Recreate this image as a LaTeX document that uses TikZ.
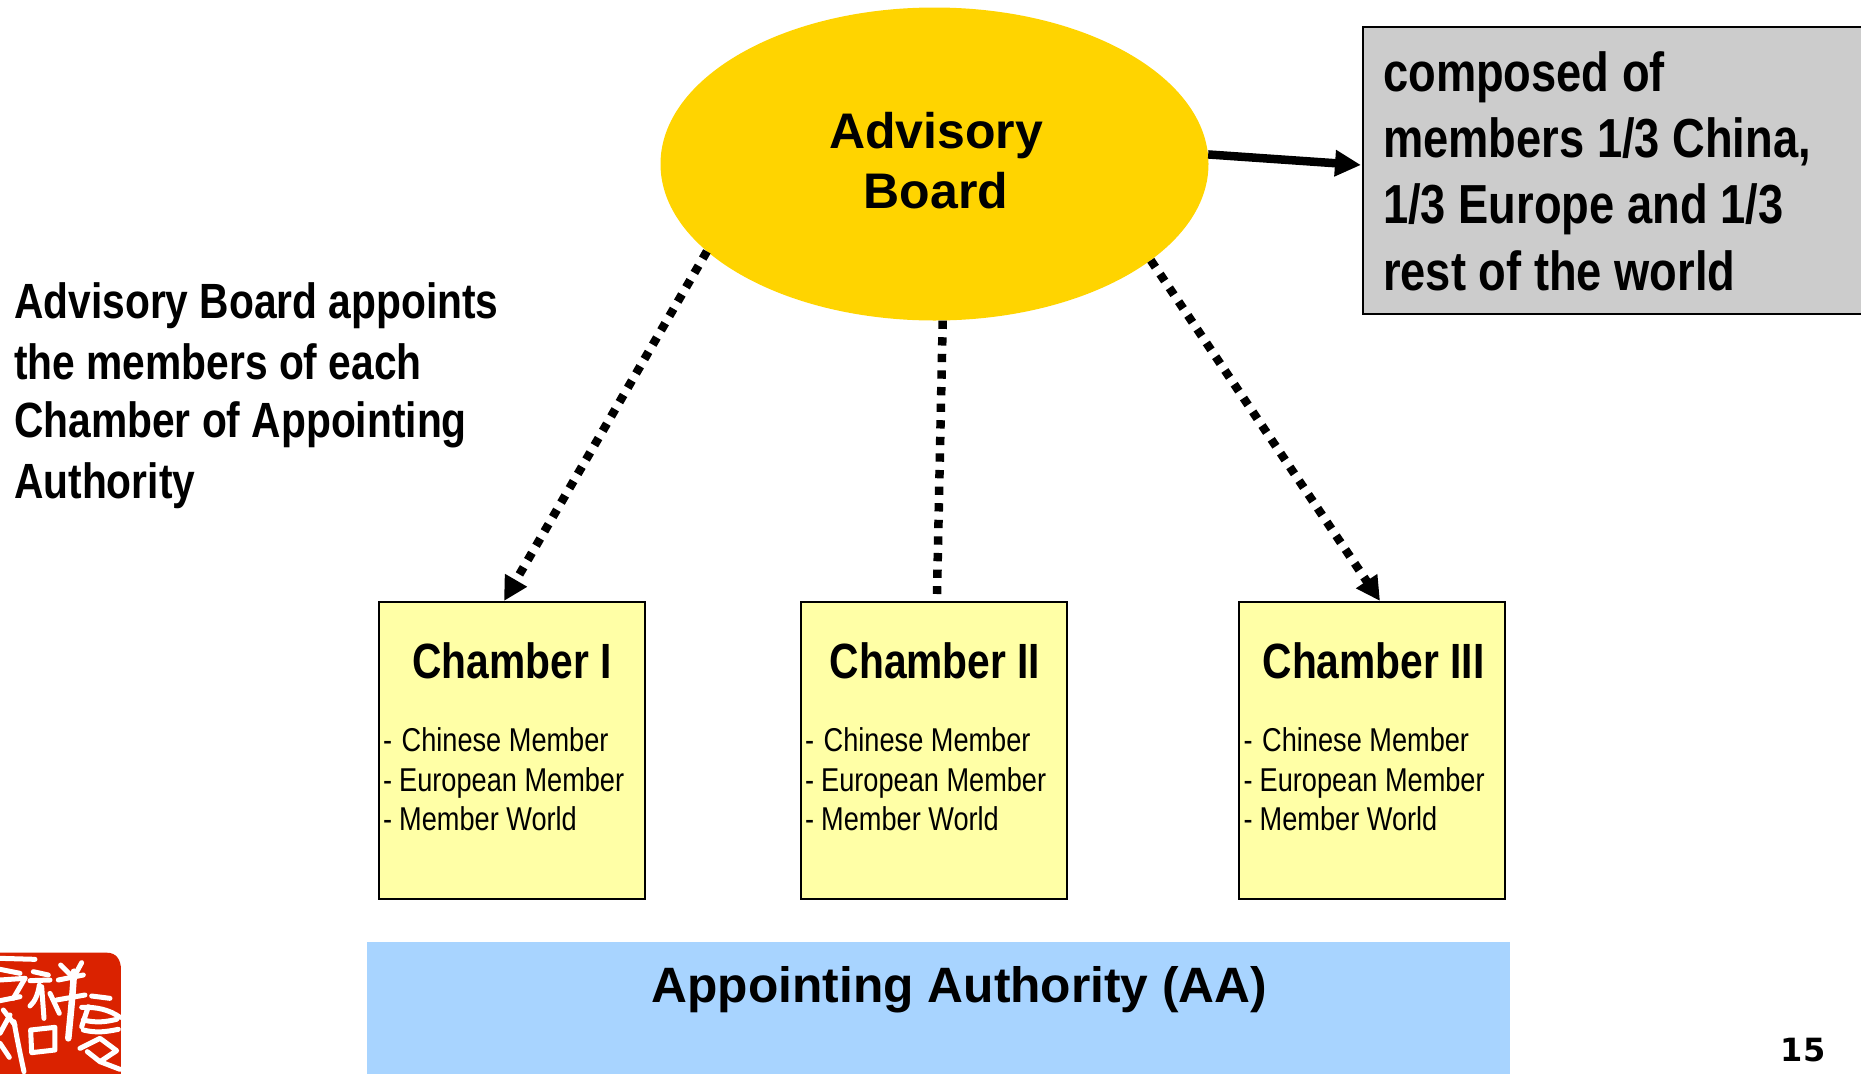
\documentclass[tikz,border=0pt]{standalone}
\usepackage{fontspec}
\setmainfont{Liberation Sans}
\newfontfamily\narrowf[FakeStretch=0.823]{Liberation Sans}
\newfontfamily\pagef{DejaVu Sans}
\usetikzlibrary{shapes.geometric,arrows.meta}
\definecolor{boardyellow}{HTML}{FFD400}
\definecolor{boxgrey}{HTML}{CCCCCC}
\definecolor{chamberyellow}{HTML}{FFFFA6}
\definecolor{aablue}{HTML}{A8D4FF}
\definecolor{sealred}{HTML}{DA2200}
\tikzset{
  chamberbox/.style={draw=black,line width=2pt,fill=chamberyellow,minimum width=266pt,minimum height=297pt,inner sep=0pt},
  chambertitle/.style={font=\narrowf\bfseries\fontsize{49.5}{58}\selectfont,inner sep=0pt,anchor=base},
  memberlist/.style={font=\narrowf\fontsize{33}{40}\selectfont,inner sep=0pt,anchor=base west},
  dotarrow/.style={line width=8.5pt,dash pattern=on 8.3pt off 8.3pt,-{Triangle[length=24pt,width=24pt,sep=0pt]}},
  dotline/.style={line width=8.5pt,dash pattern=on 8.3pt off 8.3pt},
  solidarrow/.style={line width=8.5pt,-{Triangle[length=26pt,width=25pt]}},
  sealstroke/.style={draw=white,line cap=round,line join=round,line width=5pt},
  boldtext/.style={font=\narrowf\bfseries\fontsize{49.5}{60}\selectfont,inner sep=0pt,anchor=base west},
  greytext/.style={font=\narrowf\bfseries\fontsize{55}{66}\selectfont,inner sep=0pt,anchor=base west},
}
\begin{document}
\begin{tikzpicture}[x=1pt,y=-1pt]
\useasboundingbox (0,0) rectangle (1861,1074);
\clip (0,0) rectangle (1861,1074);
\node[ellipse,fill=boardyellow,minimum width=548pt,minimum height=313pt,inner sep=0pt] (board) at (934.5,164) {};
\node[font=\bfseries\fontsize{50}{60}\selectfont,inner sep=0pt,anchor=base] (advisory) at (936,148) {Advisory};
\node[font=\bfseries\fontsize{50}{60}\selectfont,inner sep=0pt,anchor=base] (boardword) at (936,208) {Board};
\node[draw=black,line width=2pt,fill=boxgrey,anchor=north west,minimum width=520pt,minimum height=287pt,inner sep=0pt] (greybox) at (1361.5,25.5) {};
\node[greytext] (g1) at (1383,91) {composed of};
\node[greytext] (g2) at (1383,157) {members 1/3 China,};
\node[greytext] (g3) at (1383,223) {1/3 Europe and 1/3};
\node[greytext] (g4) at (1383,290) {rest of the world};
\node[boldtext] (l1) at (14,318) {Advisory Board appoints};
\node[boldtext] (l2) at (14,379) {the members of each};
\node[boldtext] (l3) at (14,437) {Chamber of Appointing};
\node[boldtext] (l4) at (14,498) {Authority};
\node[chamberbox] (c1) at (511.7,750.5) {};
\node[chamberbox] (c2) at (934,750.5) {};
\node[chamberbox] (c3) at (1372,750.5) {};
\node[chambertitle] (t1) at (512,678) {Chamber I};
\node[chambertitle] (t2) at (935,678) {Chamber II};
\node[chambertitle] (t3) at (1373.5,678) {Chamber III};
\node[memberlist] (m1a) at (383,751) {-\hspace{9.5pt}Chinese Member};
\node[memberlist] (m1b) at (383,791) {-\hspace{7pt}European Member};
\node[memberlist] (m1c) at (383,830) {-\hspace{7pt}Member World};
\node[memberlist] (m2a) at (805,751) {-\hspace{9.5pt}Chinese Member};
\node[memberlist] (m2b) at (805,791) {-\hspace{7pt}European Member};
\node[memberlist] (m2c) at (805,830) {-\hspace{7pt}Member World};
\node[memberlist] (m3a) at (1243.5,751) {-\hspace{9.5pt}Chinese Member};
\node[memberlist] (m3b) at (1243.5,791) {-\hspace{7pt}European Member};
\node[memberlist] (m3c) at (1243.5,830) {-\hspace{7pt}Member World};
\node[fill=aablue,anchor=north west,minimum width=1143pt,minimum height=132pt,inner sep=0pt] (aa) at (367,942) {};
\node[font=\bfseries\fontsize{49.7}{60}\selectfont,inner sep=0pt,anchor=base] (aatext) at (959.5,1002) {Appointing Authority (AA)};
\node[font=\pagef\bfseries\fontsize{32}{36}\selectfont,inner sep=0pt,anchor=base] (pagenum) at (1803,1061) {15};
\coordinate (c1top) at (504,601);
\coordinate (c2top) at (937,594);
\coordinate (c3top) at (1380,601);
\coordinate (greyin) at (1361,165);
\draw[solidarrow] (board.2.6) -- (greyin);
\draw[dotarrow] (board.201.8) -- (c1top);
\draw[dotline] (board.-87) -- (c2top);
\draw[dotarrow] (board.-24.5) -- (c3top);
% seal
\begin{scope}[shift={(0,930)},x=0.3333pt,y=-0.3333pt]
\fill[sealred] (0,68) -- (320,68) .. controls (350,68) and (363,90) .. (363,120) -- (363,432) -- (0,432) -- cycle;
\draw[sealstroke] (0,85) -- (105,88);
\draw[sealstroke] (0,118) -- (60,130);
\draw[sealstroke] (0,150) -- (75,145);
\draw[sealstroke] (0,212) -- (60,200);
\draw[sealstroke] (75,145) -- (40,205);
\draw[sealstroke] (100,125) -- (145,135);
\draw[sealstroke] (90,152) -- (150,150);
\draw[sealstroke] (118,165) .. controls (115,190) and (105,215) .. (90,228);
\draw[sealstroke] (125,170) -- (132,265);
\draw[sealstroke] (150,190) -- (178,250);
\draw[sealstroke] (182,105) -- (212,135);
\draw[sealstroke] (245,98) -- (225,135);
\draw[sealstroke] (175,150) -- (250,135);
\draw[sealstroke] (170,210) -- (255,195);
\draw[sealstroke,line width=6.5pt] (222,125) .. controls (218,200) and (210,270) .. (205,325);
\draw[sealstroke] (92,300) -- (165,292) -- (165,360) -- (95,368) -- cycle;
\draw[sealstroke] (275,198) -- (330,205);
\draw[sealstroke] (245,232) .. controls (290,230) and (330,240) .. (360,262);
\draw[sealstroke] (250,270) .. controls (290,280) and (320,275) .. (350,268);
\draw[sealstroke] (250,300) .. controls (290,310) and (320,305) .. (355,298);
\draw[sealstroke] (265,230) -- (245,290);
\draw[sealstroke] (240,355) -- (300,325) -- (350,362) -- (300,395) -- (262,365);
\draw[sealstroke] (300,395) -- (360,418);
\draw[sealstroke] (30,255) -- (0,310);
\draw[sealstroke] (42,275) .. controls (50,320) and (60,370) .. (72,425);
\draw[sealstroke] (0,340) -- (28,382);
\draw[sealstroke] (10,240) -- (45,285);
\end{scope}
\end{tikzpicture}
\end{document}
